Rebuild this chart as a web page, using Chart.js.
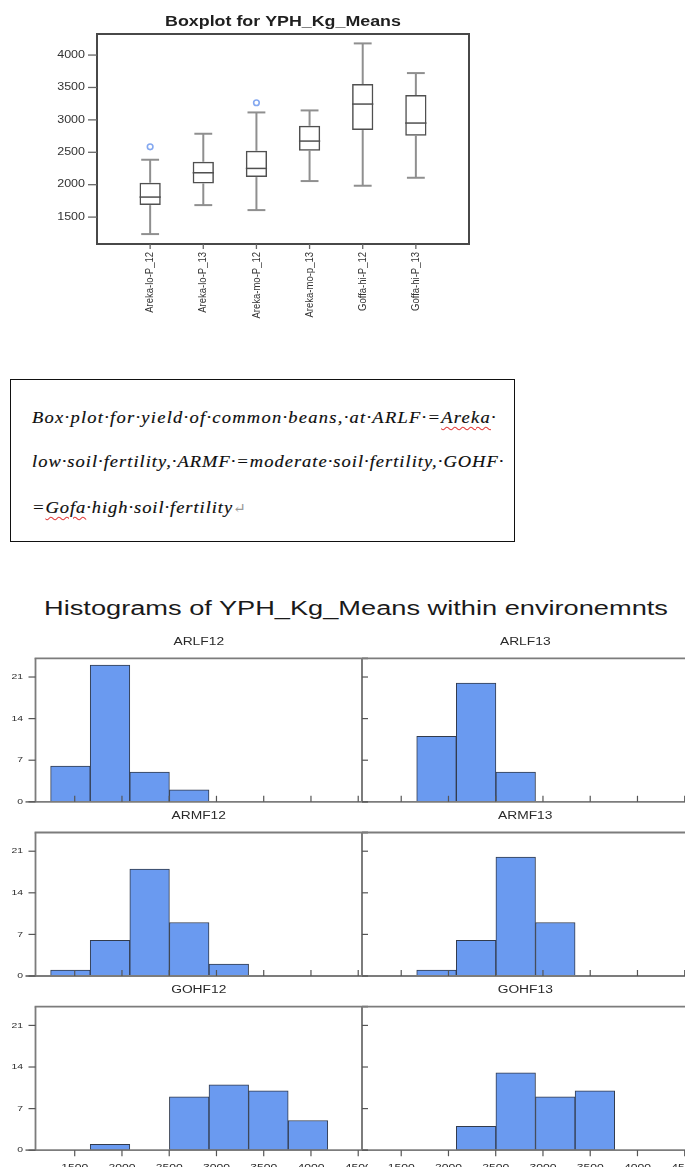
<!DOCTYPE html>
<html>
<head>
<meta charset="utf-8">
<script src="https://cdn.jsdelivr.net/npm/chart.js@4.4.1/dist/chart.umd.min.js"></script>
<style>
  html, body { margin: 0; padding: 0; background: #fff; }
  body { width: 685px; height: 1167px; overflow: hidden; position: relative; }
  canvas { position: absolute; }
  #note {
    position: absolute; left: 10px; top: 379px; width: 505px; height: 163px;
    box-sizing: border-box; border: 1px solid #111;
  }
  .line {
    position: absolute; left: 21px; white-space: nowrap; color: #0d0d0d;
    font-family: "Liberation Serif", "DejaVu Serif", serif; font-style: italic;
    font-size: 16.5px; line-height: 16px;
    transform: scaleX(1.12); transform-origin: 0 0;
    -webkit-text-stroke: 0.15px #0d0d0d;
  }
  .sq { text-decoration: underline wavy #e23c3c; text-decoration-thickness: 1px; text-underline-offset: 3px; }
  .ret { color: #9a9a9a; font-style: normal; font-size: 14px; -webkit-text-stroke: 0; }
  #histTitle {
    position: absolute; left: 0; top: 598px; width: 712px; text-align: center;
    font-family: "Liberation Sans", Arial, sans-serif; font-size: 20px; line-height: 20px;
    color: #1a1a1a; white-space: nowrap; transform: scaleX(1.36); transform-origin: 356px 0;
  }
</style>
</head>
<body>
<div id="note">
  <div class="line" style="top:30px; letter-spacing:1.13px;">Box·plot·for·yield·of·common·beans,·at·ARLF·=<span class="sq">Areka</span>·</div>
  <div class="line" style="top:74px; letter-spacing:0.9px;">low·soil·fertility,·ARMF·=moderate·soil·fertility,·GOHF·</div>
  <div class="line" style="top:120px; letter-spacing:0.85px;">=<span class="sq">Gofa</span>·high·soil·fertility<span class="ret">↵</span></div>
</div>
<div id="histTitle">Histograms of YPH_Kg_Means within environemnts</div>

<script>
// ---------- Box plot: yield per hectare (kg) by site, fertility level and year ----------
const boxLabels = ['Areka-lo-P_12', 'Areka-lo-P_13', 'Areka-mo-P_12', 'Areka-mo-p_13', 'Goffa-hi-P_12', 'Goffa-hi-P_13'];
const whiskerLow  = [1238, 1685, 1608, 2056, 1984, 2107];
const q1          = [1685, 2019, 2117, 2524, 2843, 2755];
const median      = [1809, 2184, 2251, 2673, 3244, 2951];
const q3          = [2030, 2354, 2524, 2909, 3552, 3383];
const whiskerHigh = [2385, 2786, 3115, 3146, 4180, 3722];
const outlierGroup = [1, 3];
const outlierValue = [2585, 3264];
const boxYTicks = [1500, 2000, 2500, 3000, 3500, 4000];

// ---------- Histograms: frequency of YPH_Kg_Means per environment ----------
const envNames = ['ARLF12', 'ARLF13', 'ARMF12', 'ARMF13', 'GOHF12', 'GOHF13'];
const binEdges = [1245, 1664, 2083, 2502, 2921, 3340, 3759, 4178];
const countsARLF12 = [6, 23, 5, 2, 0, 0, 0];
const countsARLF13 = [0, 11, 20, 5, 0, 0, 0];
const countsARMF12 = [1, 6, 18, 9, 2, 0, 0];
const countsARMF13 = [0, 1, 6, 20, 9, 0, 0];
const countsGOHF12 = [0, 1, 0, 9, 11, 10, 5];
const countsGOHF13 = [0, 0, 4, 13, 9, 10, 0];
const histXTicks = [1500, 2000, 2500, 3000, 3500, 4000, 4500];
const histYTicks = [0, 7, 14, 21];

const envCounts = [countsARLF12, countsARLF13, countsARMF12, countsARMF13, countsGOHF12, countsGOHF13];

const SANS = '"Liberation Sans", Arial, sans-serif';

function addCanvas(left, top, w, h) {
  const c = document.createElement('canvas');
  c.width = w; c.height = h;
  c.style.left = left + 'px'; c.style.top = top + 'px';
  c.style.width = w + 'px'; c.style.height = h + 'px';
  document.body.appendChild(c);
  return c;
}

// text drawn with a horizontal stretch factor
function wideText(ctx, text, x, y, sx, align, baseline, rotate) {
  ctx.save();
  ctx.translate(x, y);
  ctx.scale(sx, 1);
  if (rotate) ctx.rotate(rotate);
  ctx.textAlign = align;
  ctx.textBaseline = baseline;
  ctx.fillText(text, 0, 0);
  ctx.restore();
}

function line(ctx, x1, y1, x2, y2) {
  ctx.beginPath(); ctx.moveTo(x1, y1); ctx.lineTo(x2, y2); ctx.stroke();
}

// ---------- box plot ----------
const boxWhiskers = {
  id: 'boxWhiskers',
  beforeDatasetsDraw(chart) {
    const {ctx, scales: {x, y}} = chart;
    const boxes = chart.getDatasetMeta(0).data;
    ctx.save();
    ctx.strokeStyle = '#8f8f8f';
    ctx.lineWidth = 2;
    boxes.forEach((bar, i) => {
      const cx = x.getPixelForValue(i + 1);
      const cap = bar.width * 0.42;
      const yl = y.getPixelForValue(whiskerLow[i]);
      const yh = y.getPixelForValue(whiskerHigh[i]);
      line(ctx, cx, yl, cx, y.getPixelForValue(q1[i]));
      line(ctx, cx, y.getPixelForValue(q3[i]), cx, yh);
      line(ctx, cx - cap, yl, cx + cap, yl);
      line(ctx, cx - cap, yh, cx + cap, yh);
    });
    ctx.restore();
  },
  afterDatasetsDraw(chart) {
    const {ctx, scales: {x, y}} = chart;
    const boxes = chart.getDatasetMeta(0).data;
    ctx.save();
    ctx.strokeStyle = '#505050';
    ctx.lineWidth = 1.5;
    boxes.forEach((bar, i) => {
      const cx = x.getPixelForValue(i + 1);
      const ym = y.getPixelForValue(median[i]);
      line(ctx, cx - bar.width / 2, ym, cx + bar.width / 2, ym);
    });
    ctx.restore();
  }
};

const boxAxes = {
  id: 'boxAxes',
  afterDraw(chart) {
    const {ctx, chartArea: a, scales: {x, y}} = chart;
    ctx.save();
    // frame
    ctx.strokeStyle = '#484848';
    ctx.lineWidth = 2;
    ctx.strokeRect(a.left, a.top, a.right - a.left, a.bottom - a.top);
    // y ticks and labels
    ctx.strokeStyle = '#666';
    ctx.lineWidth = 1.3;
    ctx.fillStyle = '#333';
    ctx.font = '10px ' + SANS;
    y.ticks.forEach(t => {
      const py = y.getPixelForValue(t.value);
      line(ctx, a.left - 9, py, a.left, py);
      wideText(ctx, String(t.value), a.left - 12, py, 1.25, 'right', 'middle');
    });
    // x ticks and rotated category labels
    ctx.font = '9.5px ' + SANS;
    x.ticks.forEach((t, i) => {
      const px = x.getPixelForValue(t.value);
      line(ctx, px, a.bottom, px, a.bottom + 5);
      wideText(ctx, boxLabels[i], px, a.bottom + 8, 1.2, 'right', 'middle', -Math.PI / 2);
    });
    // title
    ctx.fillStyle = '#1f1f1f';
    ctx.font = 'bold 14.5px ' + SANS;
    wideText(ctx, 'Boxplot for YPH_Kg_Means', (a.left + a.right) / 2, 26, 1.23, 'center', 'alphabetic');
    ctx.restore();
  }
};

new Chart(addCanvas(0, 0, 480, 330), {
  type: 'bar',
  data: {
    datasets: [
      {
        type: 'bar',
        data: q1.map((v, i) => ({x: i + 1, y: [q1[i], q3[i]]})),
        backgroundColor: 'rgba(0,0,0,0)',
        borderColor: '#505050',
        borderWidth: 1.5,
        borderSkipped: false,
        barPercentage: 0.4,
        categoryPercentage: 1
      },
      {
        type: 'scatter',
        data: outlierGroup.map((g, i) => ({x: g, y: outlierValue[i]})),
        pointStyle: 'circle',
        pointRadius: 2.8,
        borderColor: '#84a8f0',
        borderWidth: 1.6,
        backgroundColor: 'rgba(0,0,0,0)'
      }
    ]
  },
  options: {
    responsive: false, animation: false, devicePixelRatio: 1,
    layout: {padding: {left: 97, top: 34, right: 11, bottom: 86}},
    plugins: {legend: {display: false}, tooltip: {enabled: false}},
    scales: {
      x: {type: 'linear', display: false, offset: false, min: 0, max: 7,
          afterBuildTicks: s => { s.ticks = boxLabels.map((_, i) => ({value: i + 1})); }},
      y: {type: 'linear', display: false, min: 1085, max: 4325,
          afterBuildTicks: s => { s.ticks = boxYTicks.map(v => ({value: v})); }}
    }
  },
  plugins: [boxWhiskers, boxAxes]
});

// ---------- histogram panels ----------
const rowTops = [658.3, 832.5, 1006.7];
const plotH = 143.5;
const padTop = 26, padBottom = 22;

function histAxes(name, col, row) {
  return {
    id: 'histAxes',
    afterDatasetsDraw(chart) {
      const {ctx, chartArea: a, scales: {x, y}} = chart;
      const y0 = y.getPixelForValue(0);
      const bottomRow = row === 2;
      ctx.save();
      // frame: top, left, divider and x axis
      ctx.strokeStyle = '#7c7c7c';
      ctx.lineWidth = 1.8;
      line(ctx, a.left - (col === 0 ? 0.9 : 0), a.top, a.right + 10, a.top);
      line(ctx, a.left, a.top, a.left, y0);
      if (col === 0) line(ctx, a.right, a.top, a.right, y0);
      line(ctx, a.left - (col === 0 ? 10 : 0), y0, a.right + 10, y0);
      // y ticks
      ctx.strokeStyle = '#555';
      ctx.lineWidth = 1.2;
      ctx.fillStyle = '#2a2a2a';
      ctx.font = '8px ' + SANS;
      y.ticks.forEach(t => {
        const py = y.getPixelForValue(t.value);
        if (col === 0) {
          line(ctx, a.left - 7, py, a.left, py);
          wideText(ctx, String(t.value), a.left - 12.5, py, 1.3, 'right', 'middle');
        } else {
          line(ctx, a.left, py, a.left + 6, py);
        }
      });
      // x ticks (outward on the bottom row, inward elsewhere)
      ctx.font = '9px ' + SANS;
      x.ticks.forEach(t => {
        const px = x.getPixelForValue(t.value);
        if (bottomRow) {
          line(ctx, px, y0, px, y0 + 6);
          wideText(ctx, String(t.value), px, y0 + 12.5, 1.35, 'center', 'top');
        } else {
          line(ctx, px, y0 - 6, px, y0);
        }
      });
      // panel strip title
      ctx.fillStyle = '#2a2a2a';
      ctx.font = '10px ' + SANS;
      wideText(ctx, name, (a.left + a.right) / 2, a.top - 16, 1.38, 'center', 'middle');
      ctx.restore();
    }
  };
}

envNames.forEach((name, k) => {
  const col = k % 2, row = Math.floor(k / 2);
  const left = col === 0 ? 0 : 356;
  const w = col === 0 ? 368 : 340;
  const top = Math.round(rowTops[row] - padTop);
  const h = Math.round(padTop + plotH + padBottom);
  const padL = col === 0 ? 35.5 : 6;
  const padR = col === 0 ? 6 : (left + w) - 688.5;
  const pt = rowTops[row] - top;
  const pb = h - pt - plotH;
  const counts = envCounts[k];
  new Chart(addCanvas(left, top, w, h), {
    type: 'bar',
    data: {
      datasets: [{
        data: counts.map((c, i) => ({x: (binEdges[i] + binEdges[i + 1]) / 2, y: c})),
        backgroundColor: '#6a9af0',
        borderColor: '#323b4c',
        borderWidth: 1,
        borderSkipped: false,
        barPercentage: 1,
        categoryPercentage: 1
      }]
    },
    options: {
      responsive: false, animation: false, devicePixelRatio: 1,
      layout: {padding: {left: padL, right: padR, top: pt, bottom: pb}},
      plugins: {legend: {display: false}, tooltip: {enabled: false}},
      scales: {
        x: {type: 'linear', display: false, offset: false, min: 1085, max: 4540,
            afterBuildTicks: s => { s.ticks = histXTicks.map(v => ({value: v})); }},
        y: {type: 'linear', display: false, min: 0, max: 24.15,
            afterBuildTicks: s => { s.ticks = histYTicks.map(v => ({value: v})); }}
      }
    },
    plugins: [histAxes(name, col, row)]
  });
});
</script>
</body>
</html>
